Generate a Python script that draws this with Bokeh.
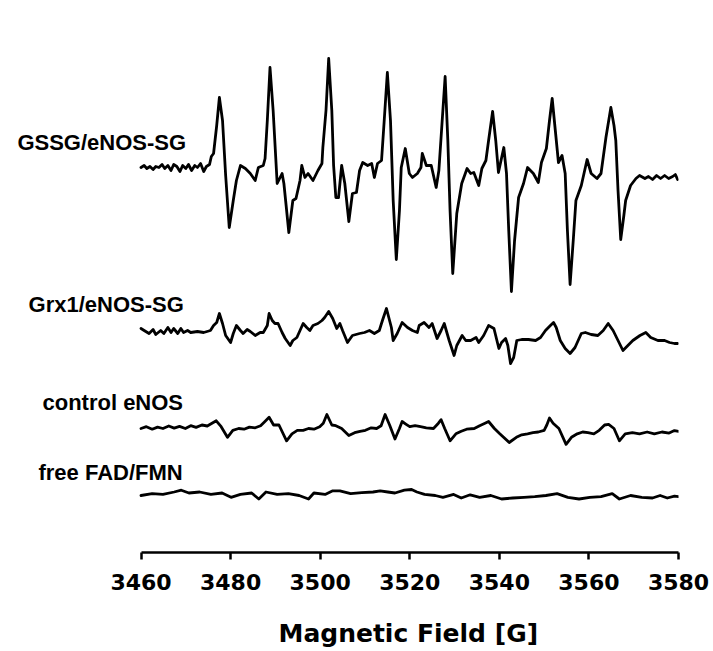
from bokeh.plotting import figure
from bokeh.models import Range1d, FixedTicker, Label, Title, LinearAxis
from bokeh.embed import file_html
from bokeh.resources import INLINE

# ---------------- data (magnetic field in G, EPR intensity in arbitrary units) -------------
field_gssg = [3460.0, 3460.7, 3461.3, 3462.0, 3462.7, 3463.3, 3464.0, 3464.7, 3465.3, 3466.0,
              3466.7, 3467.3, 3468.0, 3468.7, 3469.3, 3470.0, 3470.6, 3471.3, 3472.0, 3472.6,
              3473.3, 3474.0, 3474.6, 3475.3, 3475.7, 3476.2, 3476.9, 3477.5, 3478.2, 3478.9,
              3479.7, 3480.6, 3481.3, 3482.2, 3483.3, 3484.4, 3485.5, 3486.2, 3487.3, 3487.7,
              3488.2, 3488.8, 3489.5, 3490.4, 3491.5, 3491.9, 3492.4, 3493.0, 3493.9, 3494.6,
              3495.5, 3495.9, 3496.6, 3497.3, 3498.4, 3499.5, 3500.4, 3500.6, 3501.3, 3501.9,
              3502.6, 3503.0, 3503.5, 3504.1, 3504.8, 3505.5, 3506.4, 3507.2, 3508.1, 3508.8,
              3509.5, 3510.6, 3511.5, 3512.1, 3512.8, 3513.7, 3514.3, 3515.0, 3515.7, 3516.3,
              3517.0, 3517.7, 3518.1, 3519.0, 3519.9, 3520.6, 3521.7, 3522.5, 3522.8, 3523.7,
              3524.8, 3525.9, 3526.5, 3527.2, 3527.9, 3528.5, 3529.0, 3529.6, 3530.5, 3531.6,
              3532.8, 3533.6, 3534.3, 3535.4, 3536.1, 3537.0, 3537.6, 3538.5, 3539.2, 3539.8,
              3541.0, 3541.6, 3542.1, 3542.7, 3543.4, 3544.3, 3545.4, 3546.3, 3547.6, 3548.7,
              3549.4, 3550.5, 3551.2, 3551.8, 3552.5, 3553.2, 3554.0, 3554.7, 3555.2, 3555.8,
              3556.5, 3557.1, 3558.3, 3559.6, 3560.5, 3561.8, 3562.7, 3563.8, 3564.9, 3565.6,
              3566.0, 3566.5, 3567.1, 3567.8, 3568.2, 3569.3, 3570.5, 3571.3, 3572.5, 3573.3,
              3574.2, 3575.1, 3576.0, 3576.9, 3577.8, 3578.7, 3579.3, 3579.8]
int_gssg = [0, 2, -1, 1, -2, 1, 0, 3, -1, 2,
            -3, 3, 1, -4, 2, -1, 3, -3, 2, 0,
            4, -4, 1, 3, 11, 14, 42, 70, 47, -8,
            -60, -33, -13, 2, -1, -6, -13, 0, 2, 9,
            47, 100, 57, -16, -6, -16, -38, -65, -33, -31,
            -13, 2, -10, -6, -13, -3, 4, 20, 57, 109,
            57, 2, -30, -30, 2, -16, -54, -26, -25, -3,
            5, 2, 4, -10, 4, 7, 47, 95, 47, -33,
            -92, -43, 0, 19, -6, -10, -6, 0, 14, 2,
            2, -20, -3, 44, 91, 27, -43, -106, -46, -16,
            -1, -6, -5, -18, -1, 7, 27, 56, 27, -5,
            20, -6, -63, -124, -73, -30, -16, 0, -6, -15,
            5, 19, 47, 69, 37, 5, 12, -6, -63, -117,
            -73, -33, -18, 8, -6, -11, -6, 30, 60, 42,
            27, -23, -72, -48, -33, -18, -11, -8, -11, -9,
            -12, -8, -11, -8, -11, -9, -7, -12]

field_grx1 = [3460.0, 3460.7, 3461.8, 3462.7, 3463.3, 3464.4, 3465.1, 3466.0, 3466.7, 3467.3,
              3468.2, 3468.9, 3469.5, 3470.4, 3471.1, 3472.6, 3474.0, 3475.5, 3476.2, 3476.9,
              3477.5, 3478.2, 3478.9, 3480.0, 3480.6, 3481.3, 3482.2, 3482.8, 3483.7, 3484.4,
              3485.5, 3486.6, 3487.3, 3488.2, 3488.6, 3489.3, 3489.9, 3490.6, 3491.5, 3492.2,
              3493.3, 3493.9, 3494.8, 3495.5, 3496.2, 3497.0, 3497.7, 3498.4, 3499.5, 3500.4,
              3501.0, 3501.9, 3502.8, 3503.7, 3504.4, 3505.0, 3506.1, 3507.2, 3508.8, 3509.9,
              3511.0, 3512.1, 3513.2, 3513.9, 3514.8, 3515.9, 3516.3, 3517.2, 3518.3, 3519.5,
              3520.6, 3521.7, 3522.1, 3523.2, 3524.3, 3525.0, 3526.1, 3527.0, 3527.7, 3528.8,
              3529.9, 3530.5, 3531.7, 3532.5, 3533.6, 3534.8, 3535.4, 3536.5, 3537.6, 3538.8,
              3539.9, 3540.5, 3541.4, 3541.9, 3542.5, 3543.2, 3543.9, 3545.0, 3546.5, 3548.1,
              3549.2, 3550.3, 3551.4, 3552.1, 3552.7, 3553.6, 3554.7, 3555.8, 3556.9, 3558.3,
              3559.2, 3560.5, 3562.0, 3563.2, 3564.3, 3565.4, 3566.5, 3567.6, 3568.7, 3569.8,
              3571.4, 3572.7, 3573.8, 3575.4, 3576.9, 3578.0, 3579.1, 3579.8]
int_grx1 = [2, 0, -3, 1, -4, 0, -3, 3, -2, 2,
            -3, 2, -2, 0, -2, -1, -2, 0, 5, 8,
            17, 7, -5, -12, -3, 5, 0, -3, 1, -1,
            -5, -2, -2, 5, 17, 10, 7, 7, -2, -8,
            -15, -10, -7, 0, 7, 3, 0, 5, 7, 10,
            13, 19, 12, 2, 7, 0, -12, -5, -3, -2,
            0, -3, 0, 10, 22, 3, -10, -3, 8, 3,
            0, -2, 5, 8, 3, 7, -8, 0, 7, -10,
            -25, -15, -5, -10, -10, -7, -12, -5, 5, 2,
            -18, -12, -8, -15, -33, -27, -10, -9, -9, -10,
            -7, 0, 5, 8, 3, -10, -18, -23, -17, -3,
            -2, -4, -5, 0, 7, 0, -10, -20, -15, -10,
            -5, -2, -7, -10, -10, -12, -13, -13]

field_ctrl = [3460.0, 3461.2, 3462.5, 3463.7, 3464.9, 3466.2, 3467.4, 3468.6, 3469.9, 3471.1,
              3472.3, 3473.6, 3474.8, 3476.8, 3477.9, 3479.3, 3480.5, 3481.8, 3483.0, 3484.2,
              3485.5, 3486.7, 3487.5, 3488.6, 3489.6, 3490.8, 3492.5, 3493.7, 3494.9, 3496.2,
              3497.4, 3498.6, 3499.9, 3500.7, 3501.5, 3502.6, 3503.5, 3504.8, 3506.4, 3507.7,
              3508.9, 3510.1, 3511.4, 3512.6, 3513.6, 3514.5, 3515.5, 3516.7, 3517.7, 3518.3,
              3519.2, 3520.0, 3521.2, 3522.4, 3523.7, 3525.3, 3526.4, 3527.0, 3527.8, 3529.0,
              3530.3, 3531.5, 3532.7, 3534.4, 3535.6, 3536.8, 3537.6, 3538.9, 3540.1, 3542.2,
              3543.8, 3545.0, 3546.3, 3547.5, 3548.7, 3550.0, 3550.6, 3551.2, 3552.0, 3553.3,
              3554.9, 3556.1, 3557.4, 3558.6, 3559.8, 3561.1, 3562.3, 3563.5, 3564.4, 3565.6,
              3566.8, 3568.1, 3569.7, 3571.3, 3573.0, 3574.6, 3576.3, 3577.9, 3579.1, 3580.0]
int_ctrl = [0.0, 1.8, -0.7, 1.4, 0.0, 2.5, 0.4, 2.1, 0.0, 2.8,
            1.1, 3.5, 2.5, 7.7, 1.8, -8.8, -1.8, 0.0, -0.7, 1.4,
            0.7, 2.8, 6.3, 11.2, 3.5, 3.5, -12.3, -5.3, -1.8, -1.8,
            0.0, -0.7, 1.8, 5.3, 14.0, 3.5, 2.8, 0.0, -7.0, -4.2,
            -2.8, -1.8, 0.7, 0.0, 2.8, 14.0, 3.5, -10.5, 0.0, 7.0,
            4.2, 1.8, 2.8, 1.8, 0.7, 0.0, 5.3, 8.8, 0.0, -12.3,
            -5.3, -2.8, -0.7, 0.0, 2.8, 5.3, 7.0, 0.0, -5.3, -14.0,
            -8.8, -6.3, -5.3, -4.2, -3.5, -1.8, 3.5, 10.5, 5.3, 0.0,
            -15.8, -8.8, -5.3, -3.5, -4.2, -5.3, -1.8, 3.5, 4.2, 0.0,
            -12.3, -5.3, -4.2, -5.3, -3.5, -5.3, -3.5, -4.6, -2.1, -2.8]

field_free = [3460.0, 3462.5, 3464.9, 3467.4, 3469.0, 3470.7, 3473.1, 3475.6, 3478.1, 3480.1,
              3482.2, 3484.7, 3486.3, 3487.9, 3490.4, 3492.9, 3495.3, 3497.4, 3498.6, 3501.1,
              3502.7, 3504.4, 3506.8, 3509.3, 3511.8, 3513.4, 3515.1, 3516.7, 3518.8, 3520.4,
              3521.6, 3523.3, 3525.7, 3527.4, 3529.8, 3531.5, 3533.5, 3535.6, 3538.1, 3540.5,
              3543.0, 3545.5, 3547.9, 3550.4, 3552.9, 3555.3, 3557.8, 3560.2, 3562.7, 3565.2,
              3566.8, 3569.3, 3571.8, 3574.2, 3575.9, 3577.5, 3579.1, 3580.0]
int_free = [0.0, 1.8, 1.1, 3.5, 5.3, 2.5, 3.5, 1.1, 2.5, -1.8,
            1.1, 2.5, -3.5, 3.5, 1.1, 1.8, 0.0, -3.5, 2.5, 1.1,
            4.6, 4.6, 1.8, 2.8, 3.5, 4.6, 3.5, 2.5, 5.3, 6.0,
            3.5, 1.1, 0.0, -1.8, 1.1, -2.5, 0.7, -1.8, 0.0, -3.5,
            -2.5, -1.8, -1.1, 0.0, 1.8, -1.8, -3.5, -1.8, -1.1, 1.8,
            -3.5, 0.0, -1.8, -2.5, 0.0, -2.5, -0.7, -1.1]

trace_names = ["GSSG/eNOS-SG", "Grx1/eNOS-SG", "control eNOS", "free FAD/FMN"]
tick_values = [3460, 3480, 3500, 3520, 3540, 3560, 3580]
axis_title = "Magnetic Field [G]"

# ---------------- layout / style (not data) ----------------
trace_offsets = [385, 222, 124, 57]
label_x = [3432.4, 3434.9, 3438.0, 3437.1]
label_y = [410, 248, 150, 80]
FONT = "Liberation Sans"
TICK_FONT = "DejaVu Sans"

# frame starts at the left edge of the canvas so the trace names are not clipped;
# the axis itself only spans 3460-3580 (bounds)
x_start = 3460 - 140.5 / 4.479

p = figure(width=713, height=651,
           x_range=Range1d(x_start, 3580), y_range=Range1d(0, 552),
           output_backend="svg", toolbar_location=None,
           min_border_left=0, min_border_right=35,
           min_border_top=0, min_border_bottom=99)
p.background_fill_color = "white"
p.border_fill_color = "white"
p.outline_line_color = None
p.xgrid.visible = False
p.ygrid.visible = False
p.yaxis.visible = False

ax = p.xaxis[0]
ax.bounds = (tick_values[0], tick_values[-1])
ax.ticker = FixedTicker(ticks=tick_values)
ax.minor_tick_line_color = None
ax.major_tick_in = 0
ax.major_tick_out = 7
ax.major_tick_line_width = 2.5
ax.axis_line_width = 2.5
ax.axis_line_color = "black"
ax.major_tick_line_color = "black"
ax.major_label_text_font = TICK_FONT
ax.major_label_text_font_style = "bold"
ax.major_label_text_font_size = "22px"
ax.major_label_text_color = "black"
ax.major_label_standoff = 14

# invisible spacer below the axis (one hidden tick, empty label) to push the title down
spacer = LinearAxis(ticker=FixedTicker(ticks=[tick_values[0]]),
                    bounds=(tick_values[0], tick_values[-1]),
                    major_label_overrides={tick_values[0]: ""},
                    major_label_text_font_size="0px",
                    axis_line_color=None, major_tick_line_color=None,
                    minor_tick_line_color=None, major_tick_in=0, major_tick_out=24,
                    minor_tick_out=0, major_label_standoff=0)
p.add_layout(spacer, "below")

# axis title centred under the 3460-3580 axis (the frame itself is wider)
title = Title(text=axis_title, align="left", offset=278,
              text_font=TICK_FONT, text_font_style="bold", text_font_size="25px",
              text_color="black", standoff=0)
p.add_layout(title, "below")

series = [(field_gssg, int_gssg), (field_grx1, int_grx1),
          (field_ctrl, int_ctrl), (field_free, int_free)]
for (f, v), off in zip(series, trace_offsets):
    p.line(f, [off + a for a in v], line_color="black", line_width=2.8,
           line_join="round", line_cap="round")

for name, lx, ly in zip(trace_names, label_x, label_y):
    p.add_layout(Label(x=lx, y=ly, text=name, x_units="data", y_units="data",
                       text_font=FONT, text_font_style="bold", text_font_size="22px",
                       text_color="black", text_baseline="middle", text_align="left"))

open("out.html", "w").write(file_html(p, INLINE))
